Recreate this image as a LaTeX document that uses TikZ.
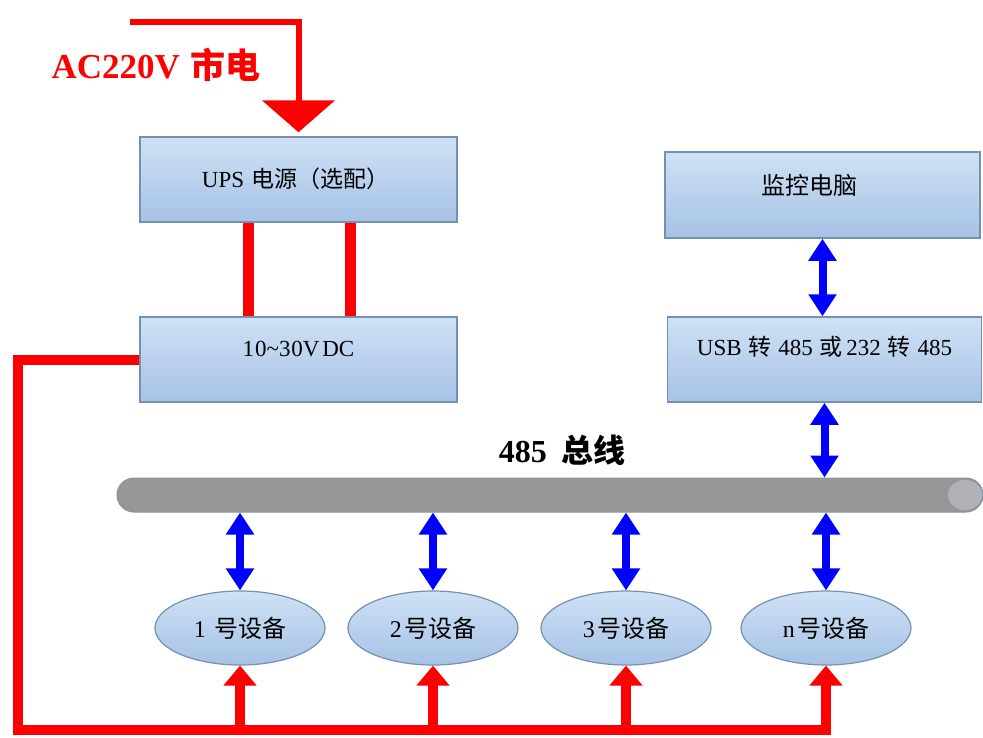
\documentclass[tikz,border=0pt]{standalone}
\usepackage{fontspec}
\setmainfont{Liberation Serif}
\newfontfamily\cjk{Noto Sans CJK SC}
\usetikzlibrary{arrows.meta,shapes.geometric,calc}
\definecolor{boxtop}{HTML}{CFE1F5}
\definecolor{boxbot}{HTML}{A6C2E6}
\definecolor{boxline}{HTML}{7590B0}
\definecolor{pwr}{HTML}{FF0000}
\definecolor{arrowblue}{HTML}{0000FF}
\definecolor{busgrey}{HTML}{979797}
\definecolor{busedge}{HTML}{8494A6}
\definecolor{capgrey}{HTML}{B0B2B8}
\begin{document}
\begin{tikzpicture}[x=1pt,y=-1pt,
  box/.style={draw=boxline, line width=1.5pt, top color=boxtop, bottom color=boxbot,
    minimum width=317pt, minimum height=85pt, inner sep=0pt},
  dev/.style={ellipse, draw=boxline, line width=1.2pt, top color=boxtop, bottom color=boxbot,
    minimum width=170pt, minimum height=74pt, inner sep=0pt, font=\fontsize{24}{27}\selectfont},
  txt/.style={font=\fontsize{23}{26}\selectfont, inner sep=0pt},
  barrow/.style={draw=arrowblue, line width=8pt,
    {Triangle[width=27pt,length=22pt]}-{Triangle[width=27pt,length=22pt]}},
  rarrow/.style={draw=pwr, line width=10pt, -{Triangle[width=32pt,length=20pt]}},
  rline/.style={draw=pwr, line width=10pt},
]
\useasboundingbox (0,0) rectangle (983,737);
\fill[white] (0,0) rectangle (983,737);

% boxes
\node[box] (ups) at (298.5,179.5) {};
\node[box] (dc) at (298.5,359.5) {};
\node[box, minimum width=315pt, minimum height=86pt] (mon) at (822.5,195) {};
\node[box, minimum width=314pt] (usb) at (824.5,359.5) {};

\node[txt] (upst) at ($(ups.center)+(-3,-1)$) {UPS\hspace{0.3em}{\cjk 电源（选配）}};
\node[txt] (dct) at ($(dc.center)+(0,-10)$) {1\hspace{0.04em}0\textasciitilde3\hspace{0.04em}0V\hspace{0.12em}DC};
\node[txt, font=\fontsize{24}{27}\selectfont] (mont) at ($(mon.center)+(-13,-10)$) {\cjk 监控电脑};
\node[txt] (usbt) at ($(usb.center)+(0,-13)$) {USB\hspace{0.3em}{\cjk 转}\hspace{0.3em}485\hspace{0.3em}{\cjk 或}\hspace{0.15em}232\hspace{0.3em}{\cjk 转}\hspace{0.3em}485};

% bus
\node[draw=busedge, line width=1pt, fill=busgrey, rounded corners=17pt,
  minimum width=866pt, minimum height=34pt, inner sep=0pt] (bus) at (550,495) {};
\fill[capgrey] (965,495) ellipse (17pt and 15pt);
\node[font=\fontsize{32}{35}\selectfont\bfseries, inner sep=0pt] (bust) at (562,450) {485\hspace{0.45em}{\cjk 总线}};

% devices
\node[dev] (d1) at (240,628) {1\hspace{0.35em}{\cjk 号设备}};
\node[dev] (d2) at (433,628) {2\hspace{0.1em}{\cjk 号设备}};
\node[dev] (d3) at (626,628) {3\hspace{0.1em}{\cjk 号设备}};
\node[dev] (dn) at (826,628) {n\hspace{0.1em}{\cjk 号设备}};

% AC input
\node[text=pwr, font=\fontsize{35}{38}\selectfont\bfseries, inner sep=0pt] (ac) at (156,65) {AC220V\hspace{0.3em}{\cjk 市电}};
\coordinate (acstart) at (130,22);
\draw[draw=pwr, line width=6pt, -{Triangle[width=72pt,length=32pt]}, shorten >=4pt]
  (acstart) -- (acstart -| ups.north) -- (ups.north);

% UPS to DC bars
\draw[rline, line width=11pt] ($(ups.south)+(-50,0)$) -- ($(dc.north)+(-50,0)$);
\draw[rline, line width=11pt] ($(ups.south)+(52,0)$) -- ($(dc.north)+(52,0)$);

% power line
\coordinate (pl) at (18,0);
\coordinate (bot) at (0,730);
\draw[rline, line join=miter] (dc.west) -- (dc.west -| pl) -- (pl |- bot) -- ($(dn.south |- bot)+(5,0)$);
\foreach \d in {d1,d2,d3,dn}{
  \draw[rarrow] (\d.south |- bot) -- (\d.south);
}

% blue arrows
\draw[barrow] (mon.south) -- (usb.north -| mon.south);
\draw[barrow] (usb.south) -- (bus.north -| usb.south);
\foreach \d in {d1,d2,d3,dn}{
  \draw[barrow] (bus.south -| \d.north) -- (\d.north);
}
\end{tikzpicture}
\end{document}
